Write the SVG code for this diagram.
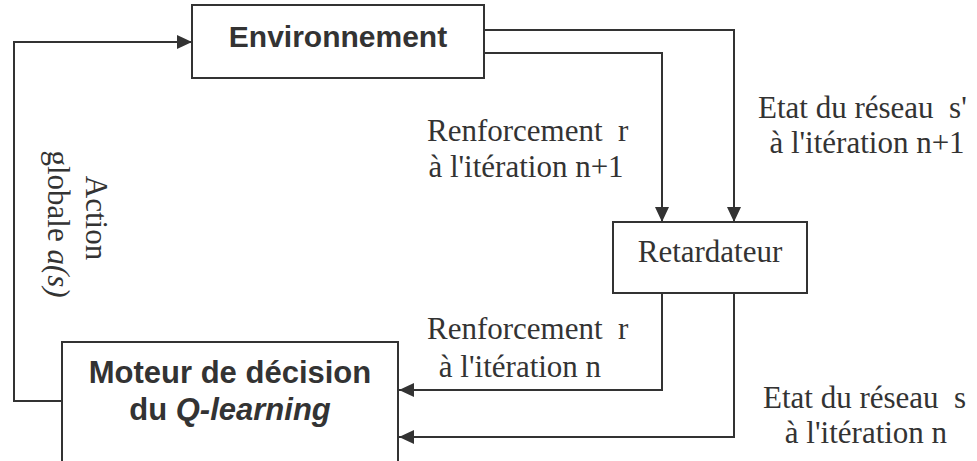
<svg xmlns="http://www.w3.org/2000/svg" width="977" height="461" viewBox="0 0 977 461">
<style>
.box{fill:#fff;stroke:#333;stroke-width:2}
.ln{fill:none;stroke:#333;stroke-width:2;marker-end:url(#ah)}
.sans{font-family:"Liberation Sans",Arial,sans-serif;font-weight:bold;fill:#333;text-anchor:middle}
.serif{font-family:"Liberation Serif","Times New Roman",serif;fill:#333;font-size:31px}
.it{font-style:italic}
</style>
<defs>
<marker id="ah" viewBox="0 0 15 14" refX="15" refY="7" markerWidth="15" markerHeight="14" markerUnits="userSpaceOnUse" orient="auto">
<path d="M0,0 L15,7 L0,14 z" fill="#333"/>
</marker>
</defs>
<rect width="977" height="461" fill="#fff"/>
<g id="connectors">
<path class="ln" d="M62,401 H14 V42 H192"/>
<path class="ln" d="M484,30 H734 V222"/>
<path class="ln" d="M484,53 H662 V222"/>
<path class="ln" d="M662,293 V390 H399"/>
<path class="ln" d="M734,293 V437 H399"/>
</g>
<g id="environnement">
<rect class="box" x="192" y="5" width="292" height="73"/>
<text class="sans" x="338" y="47" font-size="30">Environnement</text>
</g>
<g id="retardateur">
<rect class="box" x="613" y="222" width="194" height="71"/>
<text class="serif" x="710" y="262" text-anchor="middle" font-size="32">Retardateur</text>
</g>
<g id="moteur">
<rect class="box" x="62" y="342" width="336" height="130"/>
<text class="sans" x="230" y="383" font-size="31">Moteur de décision</text>
<text class="sans" x="230" y="420" font-size="31">du <tspan class="it">Q-learning</tspan></text>
</g>
<g id="labels">
<text class="serif" x="758" y="118" xml:space="preserve">Etat du réseau  s'</text>
<text class="serif" x="867" y="153" text-anchor="middle">à l'itération n+1</text>
<text class="serif" x="427" y="141" xml:space="preserve">Renforcement  r</text>
<text class="serif" x="526" y="177" text-anchor="middle">à l'itération n+1</text>
<text class="serif" x="427" y="339" xml:space="preserve">Renforcement  r</text>
<text class="serif" x="520" y="377" text-anchor="middle">à l'itération n</text>
<text class="serif" x="763" y="408" xml:space="preserve">Etat du réseau  s</text>
<text class="serif" x="866" y="443" text-anchor="middle">à l'itération n</text>
<text class="serif" transform="translate(86,218) rotate(90)" text-anchor="middle">Action</text>
<text class="serif" transform="translate(48,224) rotate(90)" text-anchor="middle">globale <tspan class="it">a(s)</tspan></text>
</g>
</svg>
